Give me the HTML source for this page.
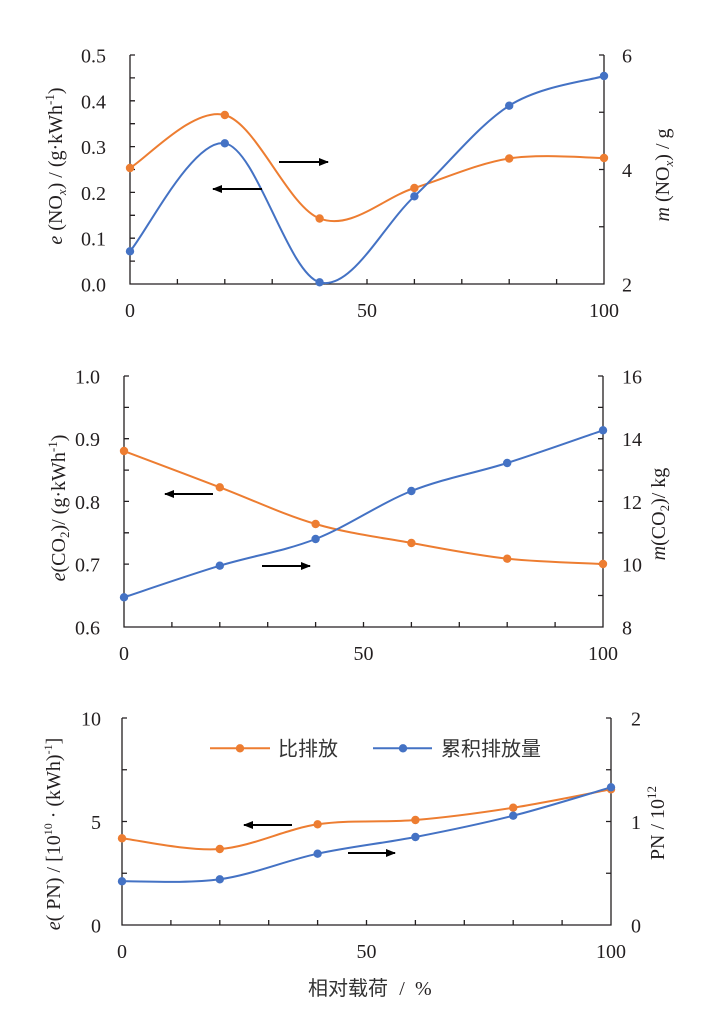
<!DOCTYPE html>
<html>
<head>
<meta charset="utf-8">
<style>
html,body{margin:0;padding:0;background:#fff;}
svg{display:block;}
.t{font-family:"Liberation Serif","Noto Serif CJK SC",serif;font-size:20px;fill:#231f20;}
.c{font-family:"Liberation Sans","Noto Sans CJK SC",sans-serif;font-size:20px;fill:#333;}
</style>
</head>
<body>
<svg width="711" height="1016" viewBox="0 0 711 1016" xmlns="http://www.w3.org/2000/svg">
<defs>
<marker id="ah" markerWidth="10" markerHeight="8" refX="9" refY="4" orient="auto" markerUnits="userSpaceOnUse">
<path d="M0,0 L10,4 L0,8 Z" fill="#000"/>
</marker>
</defs>

<!-- ============ CHART 1 ============ -->
<g stroke="#231f20" stroke-width="1.3" fill="none">
<path d="M130,55 V284 H604 V55"/>
<!-- left ticks -->
<path d="M130,55h5 M130,77.9h5 M130,100.8h5 M130,123.7h5 M130,146.6h5 M130,169.5h5 M130,192.4h5 M130,215.3h5 M130,238.2h5 M130,261.1h5"/>
<!-- right ticks -->
<path d="M604,55h-5 M604,112.25h-5 M604,169.5h-5 M604,226.75h-5"/>
<!-- bottom ticks -->
<path d="M177.4,284v-5 M224.8,284v-5 M272.2,284v-5 M319.6,284v-5 M367,284v-5 M414.4,284v-5 M461.8,284v-5 M509.2,284v-5 M556.6,284v-5"/>
</g>
<g class="t" text-anchor="end">
<text x="106" y="62.5">0.5</text>
<text x="106" y="108.3">0.4</text>
<text x="106" y="154.1">0.3</text>
<text x="106" y="199.9">0.2</text>
<text x="106" y="245.7">0.1</text>
<text x="106" y="291.5">0.0</text>
</g>
<g class="t">
<text x="622" y="62.5">6</text>
<text x="622" y="177">4</text>
<text x="622" y="291.5">2</text>
</g>
<g class="t" text-anchor="middle">
<text x="130" y="317">0</text>
<text x="367" y="317">50</text>
<text x="604" y="317">100</text>
</g>
<text class="t" text-anchor="middle" transform="translate(62,166) rotate(-90)"><tspan font-style="italic">e</tspan> (NO<tspan font-size="13" font-style="italic" dy="4">x</tspan><tspan dy="-4">) / (g·kWh</tspan><tspan font-size="13" dy="-8">-1</tspan><tspan dy="8">)</tspan></text>
<text class="t" text-anchor="middle" transform="translate(669,175) rotate(-90)"><tspan font-style="italic">m</tspan> (NO<tspan font-size="13" font-style="italic" dy="4">x</tspan><tspan dy="-4">) / g</tspan></text>

<path fill="none" stroke="#ED7D31" stroke-width="2" d="M130,168 C145.8,159.17 193.2,106.58 224.8,115 C256.4,123.42 288,206.33 319.6,218.5 C351.2,230.67 382.8,198 414.4,188 C446,178 477.6,163.5 509.2,158.5 C540.8,153.5 588.2,158.08 604,158"/>
<path fill="none" stroke="#4472C4" stroke-width="2" d="M130,251.3 C145.8,233.3 193.2,138.13 224.8,143.3 C256.4,148.47 288,273.47 319.6,282.3 C351.2,291.13 382.8,225.73 414.4,196.3 C446,166.87 477.6,125.75 509.2,105.7 C540.8,85.65 588.2,80.95 604,76"/>
<g fill="#ED7D31">
<circle cx="130" cy="168" r="4.2"/><circle cx="224.8" cy="115" r="4.2"/><circle cx="319.6" cy="218.5" r="4.2"/><circle cx="414.4" cy="188" r="4.2"/><circle cx="509.2" cy="158.5" r="4.2"/><circle cx="604" cy="158" r="4.2"/>
</g>
<g fill="#4472C4">
<circle cx="130" cy="251.3" r="4.2"/><circle cx="224.8" cy="143.3" r="4.2"/><circle cx="319.6" cy="282.3" r="4.2"/><circle cx="414.4" cy="196.3" r="4.2"/><circle cx="509.2" cy="105.7" r="4.2"/><circle cx="604" cy="76" r="4.2"/>
</g>
<g stroke="#000" stroke-width="2" marker-end="url(#ah)">
<line x1="279" y1="162" x2="328" y2="162"/>
<line x1="262" y1="189" x2="213" y2="189"/>
</g>

<!-- ============ CHART 2 ============ -->
<g stroke="#231f20" stroke-width="1.3" fill="none">
<path d="M124,376 V627 H603 V376"/>
<path d="M124,376h5 M124,407.4h5 M124,438.7h5 M124,470.1h5 M124,501.4h5 M124,532.8h5 M124,564.1h5 M124,595.5h5"/>
<path d="M603,376h-5 M603,407.4h-5 M603,438.7h-5 M603,470.1h-5 M603,501.4h-5 M603,532.8h-5 M603,564.1h-5 M603,595.5h-5"/>
<path d="M171.9,627v-5 M219.8,627v-5 M267.7,627v-5 M315.6,627v-5 M363.5,627v-5 M411.4,627v-5 M459.3,627v-5 M507.2,627v-5 M555.1,627v-5"/>
</g>
<g class="t" text-anchor="end">
<text x="100" y="383.5">1.0</text>
<text x="100" y="446.2">0.9</text>
<text x="100" y="508.9">0.8</text>
<text x="100" y="571.6">0.7</text>
<text x="100" y="634.5">0.6</text>
</g>
<g class="t">
<text x="622" y="383.5">16</text>
<text x="622" y="446.2">14</text>
<text x="622" y="508.9">12</text>
<text x="622" y="571.6">10</text>
<text x="622" y="634.5">8</text>
</g>
<g class="t" text-anchor="middle">
<text x="124" y="660">0</text>
<text x="363.5" y="660">50</text>
<text x="603" y="660">100</text>
</g>
<text class="t" text-anchor="middle" transform="translate(65,508) rotate(-90)"><tspan font-style="italic">e</tspan>(CO<tspan font-size="13" dy="4">2</tspan><tspan dy="-4">)/ (g·kWh</tspan><tspan font-size="13" dy="-8">-1</tspan><tspan dy="8">)</tspan></text>
<text class="t" text-anchor="middle" transform="translate(665,514) rotate(-90)"><tspan font-style="italic">m</tspan>(CO<tspan font-size="13" dy="4">2</tspan><tspan dy="-4">)/ kg</tspan></text>

<path fill="none" stroke="#ED7D31" stroke-width="2" d="M124,451 C139.97,457.05 187.87,475.13 219.8,487.3 C251.73,499.47 283.67,514.72 315.6,524 C347.53,533.28 379.47,537.22 411.4,543 C443.33,548.78 475.27,555.2 507.2,558.7 C539.13,562.2 587.03,563.12 603,564"/>
<path fill="none" stroke="#4472C4" stroke-width="2" d="M124,597.3 C139.97,592.03 187.87,575.42 219.8,565.7 C251.73,555.98 283.67,551.45 315.6,539 C347.53,526.55 379.47,503.67 411.4,491 C443.33,478.33 475.27,473.12 507.2,463 C539.13,452.88 587.03,435.75 603,430.3"/>
<g fill="#ED7D31">
<circle cx="124" cy="451" r="4.2"/><circle cx="219.8" cy="487.3" r="4.2"/><circle cx="315.6" cy="524" r="4.2"/><circle cx="411.4" cy="543" r="4.2"/><circle cx="507.2" cy="558.7" r="4.2"/><circle cx="603" cy="564" r="4.2"/>
</g>
<g fill="#4472C4">
<circle cx="124" cy="597.3" r="4.2"/><circle cx="219.8" cy="565.7" r="4.2"/><circle cx="315.6" cy="539" r="4.2"/><circle cx="411.4" cy="491" r="4.2"/><circle cx="507.2" cy="463" r="4.2"/><circle cx="603" cy="430.3" r="4.2"/>
</g>
<g stroke="#000" stroke-width="2" marker-end="url(#ah)">
<line x1="213" y1="494" x2="165" y2="494"/>
<line x1="262" y1="566" x2="310" y2="566"/>
</g>

<!-- ============ CHART 3 ============ -->
<g stroke="#231f20" stroke-width="1.3" fill="none">
<path d="M122,718 V925 H611 V718"/>
<path d="M122,718h5 M122,769.75h5 M122,821.5h5 M122,873.25h5"/>
<path d="M611,718h-5 M611,769.75h-5 M611,821.5h-5 M611,873.25h-5"/>
<path d="M170.9,925v-5 M219.8,925v-5 M268.7,925v-5 M317.6,925v-5 M366.5,925v-5 M415.4,925v-5 M464.3,925v-5 M513.2,925v-5 M562.1,925v-5"/>
</g>
<g class="t" text-anchor="end">
<text x="101" y="725.5">10</text>
<text x="101" y="829">5</text>
<text x="101" y="932.5">0</text>
</g>
<g class="t">
<text x="631" y="725.5">2</text>
<text x="631" y="829">1</text>
<text x="631" y="932.5">0</text>
</g>
<g class="t" text-anchor="middle">
<text x="122" y="958">0</text>
<text x="366.5" y="958">50</text>
<text x="611" y="958">100</text>
</g>
<text class="t" text-anchor="middle" font-size="19" transform="translate(60,834) rotate(-90)"><tspan font-style="italic">e</tspan>( PN) / [10<tspan font-size="12" dy="-8">10</tspan><tspan dy="8"> · (kWh)</tspan><tspan font-size="12" dy="-8">-1</tspan><tspan dy="8">]</tspan></text>
<text class="t" text-anchor="middle" transform="translate(664,823) rotate(-90)">PN / 10<tspan font-size="13" dy="-8">12</tspan></text>

<path fill="none" stroke="#ED7D31" stroke-width="2" d="M122,838.3 C138.3,840.08 187.2,851.33 219.8,849 C252.4,846.67 285,829.13 317.6,824.3 C350.2,819.47 382.8,822.77 415.4,820 C448,817.23 480.6,812.82 513.2,807.7 C545.8,802.58 594.7,792.37 611,789.3"/>
<path fill="none" stroke="#4472C4" stroke-width="2" d="M122,881.3 C138.3,880.97 187.2,883.9 219.8,879.3 C252.4,874.7 285,860.75 317.6,853.7 C350.2,846.65 382.8,843.33 415.4,837 C448,830.67 480.6,823.98 513.2,815.7 C545.8,807.42 594.7,792.03 611,787.3"/>
<g fill="#ED7D31">
<circle cx="122" cy="838.3" r="4.2"/><circle cx="219.8" cy="849" r="4.2"/><circle cx="317.6" cy="824.3" r="4.2"/><circle cx="415.4" cy="820" r="4.2"/><circle cx="513.2" cy="807.7" r="4.2"/><circle cx="611" cy="789.3" r="4.2"/>
</g>
<g fill="#4472C4">
<circle cx="122" cy="881.3" r="4.2"/><circle cx="219.8" cy="879.3" r="4.2"/><circle cx="317.6" cy="853.7" r="4.2"/><circle cx="415.4" cy="837" r="4.2"/><circle cx="513.2" cy="815.7" r="4.2"/><circle cx="611" cy="787.3" r="4.2"/>
</g>
<g stroke="#000" stroke-width="2" marker-end="url(#ah)">
<line x1="292" y1="825" x2="244" y2="825"/>
<line x1="348" y1="853" x2="395" y2="853"/>
</g>

<!-- legend -->
<line x1="210" y1="748.3" x2="270" y2="748.3" stroke="#ED7D31" stroke-width="2"/>
<circle cx="240" cy="748.3" r="4.2" fill="#ED7D31"/>
<text class="c" x="278" y="755.5">比排放</text>
<line x1="373" y1="748.3" x2="432" y2="748.3" stroke="#4472C4" stroke-width="2"/>
<circle cx="403" cy="748.3" r="4.2" fill="#4472C4"/>
<text class="c" x="441" y="755.5">累积排放量</text>

<!-- x title -->
<text class="c" x="308" y="995">相对载荷</text>
<text class="t" x="402" y="995" text-anchor="middle" fill="#333">/</text>
<text class="t" x="415" y="995" fill="#333">%</text>
</svg>
</body>
</html>
